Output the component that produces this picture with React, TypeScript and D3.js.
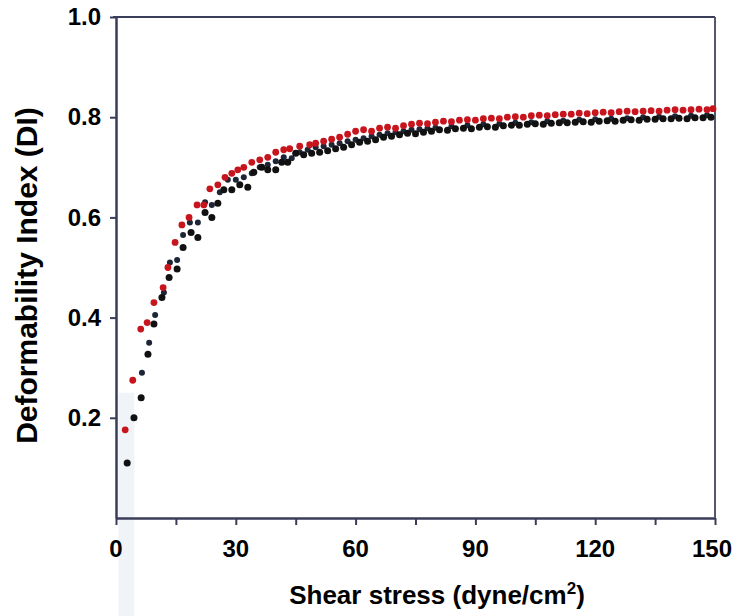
import * as d3 from 'd3';
import React, { useRef, useEffect } from 'react';

// shear stress (dyne/cm2) and deformability index for each run
const redX = [2.3, 4.2, 6.2, 7.8, 9.5, 11.8, 13.0, 14.8, 16.5, 18.3, 20.3, 22.0, 23.5, 25.5, 27.3, 29.0, 30.5, 32.0, 34.0, 36.0, 38.0, 40.0, 42.0, 43.5, 46.0, 48.5, 50.0, 52.0, 54.0, 56.0, 58.0, 60.0, 62.0, 64.0, 66.0, 68.0, 70.0, 72.0, 74.0, 76.0, 78.0, 80.0, 82.0, 84.0, 86.0, 88.0, 90.0, 92.0, 94.0, 96.0, 98.0, 100.0, 102.0, 104.0, 106.0, 108.0, 110.0, 112.0, 114.0, 116.0, 118.0, 120.0, 122.0, 124.0, 126.0, 128.0, 130.0, 132.0, 134.0, 136.0, 138.0, 140.0, 142.0, 144.0, 146.0, 148.0, 149.5];
const redY = [0.176, 0.275, 0.377, 0.39, 0.43, 0.46, 0.5, 0.55, 0.585, 0.6, 0.625, 0.625, 0.657, 0.665, 0.68, 0.688, 0.695, 0.7, 0.71, 0.715, 0.72, 0.73, 0.735, 0.737, 0.742, 0.745, 0.748, 0.752, 0.756, 0.76, 0.766, 0.772, 0.775, 0.772, 0.778, 0.78, 0.778, 0.783, 0.786, 0.788, 0.787, 0.79, 0.792, 0.791, 0.794, 0.795, 0.794, 0.797, 0.798, 0.797, 0.8, 0.801, 0.8, 0.803, 0.804, 0.803, 0.805, 0.806, 0.806, 0.808, 0.807, 0.809, 0.81, 0.809, 0.811, 0.812, 0.811, 0.812, 0.813, 0.812, 0.814, 0.815, 0.814, 0.815, 0.816, 0.815, 0.817];

const blackX = [2.8, 4.5, 6.3, 8.0, 9.5, 11.5, 13.3, 15.3, 16.8, 18.8, 20.5, 22.3, 24.0, 25.5, 27.0, 29.0, 31.0, 33.0, 34.5, 36.5, 38.0, 40.0, 41.5, 43.0, 45.0, 47.0, 49.0, 51.0, 53.0, 55.0, 57.0, 59.0, 61.0, 63.0, 65.0, 67.0, 69.0, 71.0, 73.0, 75.0, 77.0, 79.0, 81.0, 83.0, 85.0, 87.0, 89.0, 91.0, 93.0, 95.0, 97.0, 99.0, 101.0, 103.0, 105.0, 107.0, 109.0, 111.0, 113.0, 115.0, 117.0, 119.0, 121.0, 123.0, 125.0, 127.0, 129.0, 131.0, 133.0, 135.0, 137.0, 139.0, 141.0, 143.0, 145.0, 147.0, 149.0];
const blackY = [0.11, 0.2, 0.24, 0.327, 0.387, 0.44, 0.48, 0.497, 0.54, 0.57, 0.56, 0.61, 0.6, 0.628, 0.655, 0.655, 0.665, 0.66, 0.69, 0.7, 0.695, 0.695, 0.71, 0.71, 0.728, 0.725, 0.728, 0.73, 0.733, 0.737, 0.74, 0.745, 0.75, 0.752, 0.755, 0.76, 0.762, 0.765, 0.768, 0.767, 0.77, 0.772, 0.775, 0.774, 0.777, 0.778, 0.777, 0.78, 0.781, 0.78, 0.783, 0.784, 0.784, 0.786, 0.787, 0.786, 0.788, 0.789, 0.789, 0.79, 0.791, 0.79, 0.792, 0.793, 0.792, 0.794, 0.795, 0.794, 0.796, 0.796, 0.797, 0.797, 0.798, 0.797, 0.799, 0.799, 0.8];

const navyX = [6.5, 8.3, 9.8, 12.0, 13.5, 15.3, 16.8, 18.5, 20.5, 22.3, 24.0, 26.0, 28.0, 30.0, 32.0, 34.0, 36.0, 38.0, 40.0, 42.0, 44.0, 46.0, 48.0, 50.0, 52.0, 54.0, 56.0, 58.0, 60.0, 62.0, 64.0, 66.0, 68.0, 70.0, 72.0, 74.0, 76.0, 78.0, 80.0, 84.0, 88.0, 92.0, 96.0, 100.0, 104.0, 108.0, 112.0, 116.0, 120.0, 124.0, 128.0, 132.0, 136.0, 140.0, 144.0, 148.0];
const navyY = [0.29, 0.35, 0.405, 0.45, 0.51, 0.515, 0.565, 0.59, 0.59, 0.63, 0.625, 0.65, 0.675, 0.675, 0.68, 0.688, 0.7, 0.705, 0.712, 0.72, 0.718, 0.73, 0.735, 0.74, 0.742, 0.745, 0.748, 0.752, 0.755, 0.758, 0.762, 0.765, 0.768, 0.77, 0.772, 0.775, 0.776, 0.778, 0.779, 0.782, 0.784, 0.786, 0.787, 0.789, 0.79, 0.792, 0.793, 0.795, 0.796, 0.797, 0.798, 0.8, 0.801, 0.802, 0.803, 0.804];

const xTickLabels = [0, 30, 60, 90, 120, 150];
const xTickMarks = [0, 15, 30, 45, 60, 75, 90, 105, 120, 135, 150];
const yTickLabels = [0.2, 0.4, 0.6, 0.8, 1.0];

export default function App() {
  const svgRef = useRef<SVGSVGElement>(null);
  const width = 737;
  const height = 616;
  const marginTop = 17;
  const marginRight = 22;
  const marginBottom = 98;
  const marginLeft = 116;
  const frame = '#3a3d58';

  useEffect(() => {
    if (!svgRef.current) return;
    const svg = d3.select(svgRef.current);
    svg.selectAll('*').remove();

    const xScale = d3.scaleLinear().domain([0, 150]).range([marginLeft, width - marginRight]);
    const yScale = d3.scaleLinear().domain([0, 1]).range([height - marginBottom, marginTop]);

    // faint scan stripe near the origin
    svg.append('rect')
      .attr('x', xScale(0.6)).attr('y', yScale(0.25))
      .attr('width', 16).attr('height', height - yScale(0.25))
      .attr('fill', '#f0f4f9');

    // bottom axis
    svg.append('g')
      .attr('transform', `translate(0,${height - marginBottom})`)
      .call(d3.axisBottom(xScale).tickValues(xTickMarks).tickSize(7).tickFormat(() => '').tickSizeOuter(0))
      .call(g => g.selectAll('line').attr('stroke', frame).attr('stroke-width', 2))
      .call(g => g.select('.domain').attr('stroke', frame).attr('stroke-width', 2.5));

    svg.append('g')
      .selectAll('text')
      .data(xTickLabels)
      .join('text')
      .attr('x', d => xScale(d) - (d === 150 ? 3 : 0))
      .attr('y', height - marginBottom + 39)
      .attr('text-anchor', 'middle')
      .attr('font-family', 'Liberation Sans, Arial, sans-serif')
      .attr('font-weight', 'bold')
      .attr('font-size', 24)
      .attr('fill', '#000')
      .text(d => d);

    // left axis
    svg.append('g')
      .attr('transform', `translate(${marginLeft},0)`)
      .call(d3.axisLeft(yScale).tickValues(yTickLabels).tickSize(6).tickFormat(d3.format('.1f')).tickSizeOuter(0))
      .call(g => g.selectAll('line').attr('stroke', frame).attr('stroke-width', 2))
      .call(g => g.select('.domain').attr('stroke', frame).attr('stroke-width', 2.5))
      .call(g => g.selectAll('text')
        .attr('x', -15)
        .attr('font-family', 'Liberation Sans, Arial, sans-serif')
        .attr('font-weight', 'bold')
        .attr('font-size', 24)
        .attr('fill', '#000'));

    // top and right border
    svg.append('line')
      .attr('x1', marginLeft - 3).attr('x2', width - marginRight)
      .attr('y1', marginTop).attr('y2', marginTop)
      .attr('stroke', frame).attr('stroke-width', 2);
    svg.append('line')
      .attr('x1', width - marginRight).attr('x2', width - marginRight)
      .attr('y1', marginTop).attr('y2', height - marginBottom)
      .attr('stroke', '#55586a').attr('stroke-width', 2);

    const series = [
      { xs: navyX, ys: navyY, color: '#1d2636', r: 3.0 },
      { xs: blackX, ys: blackY, color: '#111111', r: 3.5 },
      { xs: redX, ys: redY, color: '#c8141c', r: 3.4 },
    ];

    series.forEach(s => {
      svg.append('g')
        .selectAll('circle')
        .data(s.xs.map((x, i) => [x, s.ys[i]]))
        .join('circle')
        .attr('cx', d => xScale(d[0]))
        .attr('cy', d => yScale(d[1]))
        .attr('r', s.r)
        .attr('fill', s.color);
    });

    // axis titles
    svg.append('text')
      .attr('x', 437)
      .attr('y', 604)
      .attr('text-anchor', 'middle')
      .attr('font-family', 'Liberation Sans, Arial, sans-serif')
      .attr('font-weight', 'bold')
      .attr('font-size', 26)
      .attr('fill', '#000')
      .call(t => {
        t.append('tspan').text('Shear stress (dyne/cm');
        t.append('tspan').attr('dy', -10).attr('font-size', 17).text('2');
        t.append('tspan').attr('dy', 10).text(')');
      });

    svg.append('text')
      .attr('transform', `translate(37,${yScale(0.5) + 8}) rotate(-90)`)
      .attr('text-anchor', 'middle')
      .attr('font-family', 'Liberation Sans, Arial, sans-serif')
      .attr('font-weight', 'bold')
      .attr('font-size', 30)
      .attr('fill', '#000')
      .text('Deformability Index (DI)');
  }, []);

  return (
    <svg
      ref={svgRef}
      width={width}
      height={height}
      viewBox={`0 0 ${width} ${height}`}
      style={{ position: 'absolute', left: 0, top: 0, background: '#fff' }}
    />
  );
}
